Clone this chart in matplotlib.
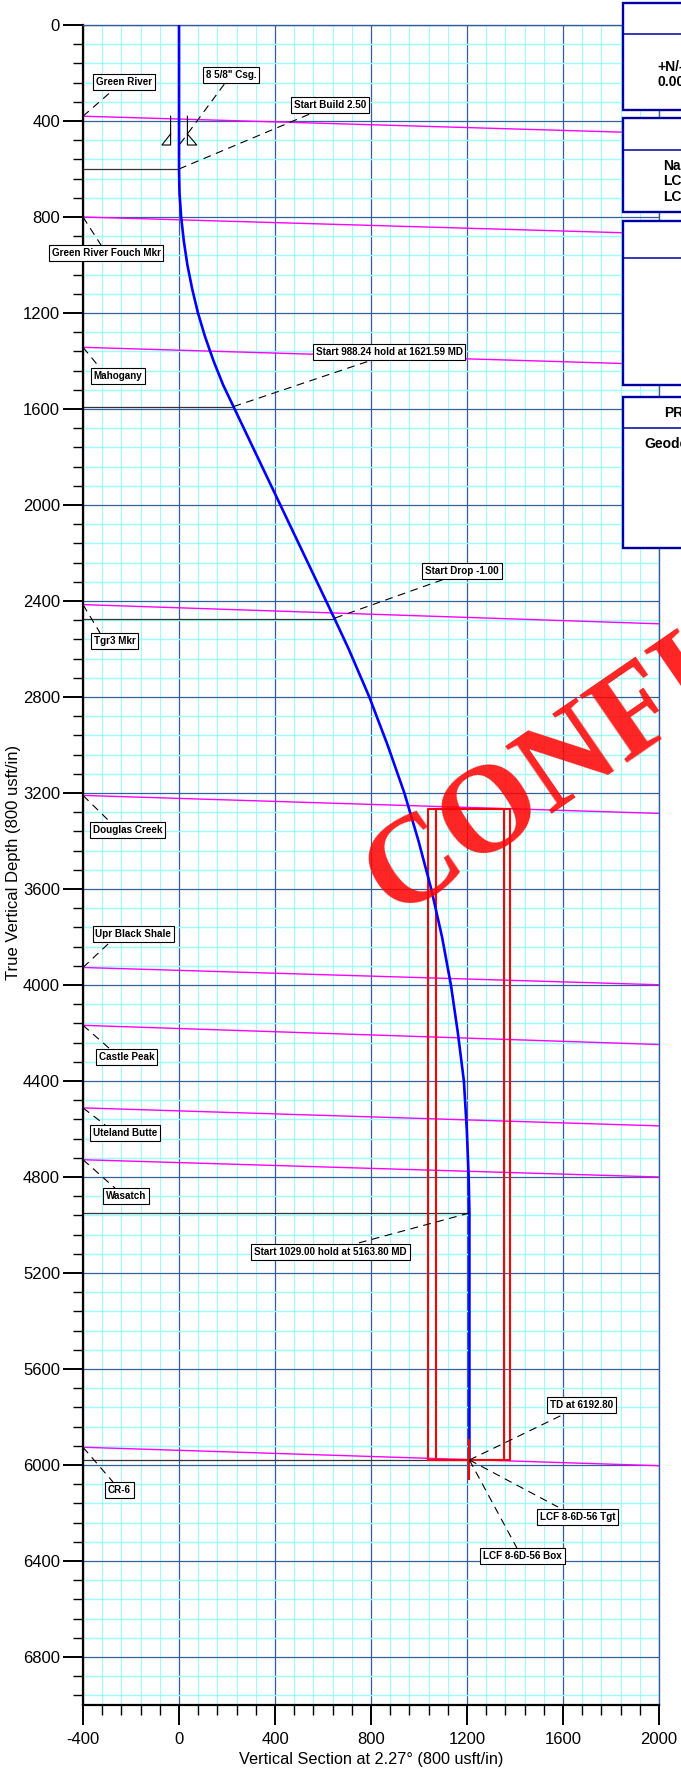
"""Vertical section plot for the planned well path."""
import matplotlib
matplotlib.use('Agg')
import matplotlib.pyplot as plt
from matplotlib.patches import Rectangle
from matplotlib.ticker import MultipleLocator

plt.rcParams['font.family'] = ['Liberation Sans', 'DejaVu Sans']
plt.rcParams['axes.unicode_minus'] = False

# well path
path_vs = [0, 0, 2, 9, 20, 35, 55, 79, 109, 144, 184, 227, 651, 707, 793, 869, 939, 998, 1051,
           1096, 1133, 1162, 1187, 1199, 1207, 1210, 1210]
path_tvd = [0, 600, 700, 800, 900, 1000, 1100, 1200, 1300, 1400, 1500, 1590, 2480, 2600, 2800, 3000, 3200, 3400, 3600,
            3800, 4000, 4200, 4400, 4600, 4800, 4950, 5979]

# formation tops: tvd at the left and right edge of the plot
formation_left = [380, 800, 1343, 2415, 3210, 3927, 4168, 4512, 4728, 5926]
formation_right = [451, 870, 1415, 2495, 3285, 3999, 4248, 4587, 4800, 6003]

# horizontal lines from the axis to the path
marker_tvd = [600, 1590, 2475, 4950, 5979]
marker_vs = [0, 227, 650, 1210, 1210]

# targets
target_outer = [1039, 1380]
target_inner = [1071, 1355]
target_top = 3267
target_bottom = 5979

# label text, label centre, leader start, leader end
labels = ['Green River', '8 5/8" Csg.', 'Start Build 2.50', 'Green River Fouch Mkr', 'Mahogany',
          'Start 988.24 hold at 1621.59 MD', 'Start Drop -1.00', 'Tgr3 Mkr', 'Douglas Creek',
          'Upr Black Shale', 'Castle Peak', 'Uteland Butte', 'Wasatch',
          'Start 1029.00 hold at 5163.80 MD', 'TD at 6192.80', 'LCF 8-6D-56 Tgt',
          'LCF 8-6D-56 Box', 'CR-6']
label_x = [-229, 217, 629, -304, -254, 875, 1179, -269, -215, -190, -219, -225, -221, 631, 1679, 1660, 1431, -248]
label_y = [237, 208, 333, 950, 1462, 1362, 2275, 2567, 3354, 3788, 4300, 4617, 4879, 5112, 5750, 6217, 6379, 6104]
start_x = [-400, 4, 0, -400, -400, 227, 650, -400, -400, -400, -400, -400, -400, 1210, 1210, 1210, 1210, -400]
start_y = [380, 496, 600, 800, 1343, 1590, 2471, 2415, 3210, 3927, 4168, 4512, 4728, 4950, 5979, 5979, 5979, 5926]
end_x = [-275, 192, 554, -325, -329, 804, 1108, -329, -287, -287, -287, -308, -267, 733, 1596, 1579, 1408, -275]
end_y = [271, 242, 367, 917, 1429, 1396, 2308, 2533, 3321, 3821, 4267, 4583, 4846, 5079, 5792, 6175, 6346, 6071]

W, H = 681, 1769
fig = plt.figure(figsize=(W / 100, H / 100), dpi=100)
ax = fig.add_axes([83 / W, 1 - 1705 / H, 576 / W, 1680 / H])

ax.set_xlim(-400, 2000)
ax.set_ylim(7000, 0)
ax.xaxis.set_major_locator(MultipleLocator(400))
ax.xaxis.set_minor_locator(MultipleLocator(80))
ax.yaxis.set_major_locator(MultipleLocator(400))
ax.yaxis.set_minor_locator(MultipleLocator(80))
ax.set_axisbelow(True)

ax.grid(True, which='minor', axis='x', color='#99ffff', linewidth=0.75)
ax.grid(True, which='minor', axis='y', color='#99ffff', linewidth=1.05)
ax.grid(True, which='major', color='#33609a', linewidth=0.9)

ax.tick_params(which='major', length=14.5, width=1.4, labelsize=12, pad=2)
ax.tick_params(which='minor', length=7.2, width=1.0)
ax.tick_params(axis='x', which='major', pad=5)
ax.spines['top'].set_color('#33609a')
ax.spines['right'].set_color('#33609a')
ax.spines['top'].set_linewidth(1.0)
ax.spines['right'].set_linewidth(1.0)
ax.spines['left'].set_linewidth(1.6)
ax.spines['bottom'].set_linewidth(1.6)

# formation tops
for left, right in zip(formation_left, formation_right):
    ax.plot([-400, 2000], [left, right], color='#ff00ff', linewidth=1.0, zorder=2)

# marker lines
for vs, tvd in zip(marker_vs, marker_tvd):
    ax.plot([-400, vs], [tvd, tvd], color='#333333', linewidth=0.9, zorder=2)

# target boxes
for a, b in [target_outer, target_inner]:
    ax.plot([a, a, b, b, a], [target_bottom, target_top, target_top, target_bottom, target_bottom],
            color='#ff0000', linewidth=1.5, zorder=3)

# casing shoe symbol
ax.plot([-35, -35, -71, -35], [380, 500, 500, 454], color='black', linewidth=0.8, zorder=3)
ax.plot([35, 35, 74, 35], [380, 500, 500, 454], color='black', linewidth=0.8, zorder=3)

# path and end marker
ax.plot(path_vs, path_tvd, color='#0000ff', linewidth=1.9, zorder=4)
ax.plot([1210, 1210], [5896, 6059], color='#ff0000', linewidth=1.5, zorder=4)

# labels with dashed leaders
for i, text in enumerate(labels):
    ax.plot([start_x[i], end_x[i]], [start_y[i], end_y[i]], color='black', linewidth=0.8,
            dashes=(7, 5), zorder=5)
    ax.text(label_x[i], label_y[i], text, fontsize=7.1, fontweight='bold', ha='center', va='center',
            bbox=dict(boxstyle='square,pad=0.3', facecolor='white', edgecolor='black', linewidth=0.8),
            zorder=6)

fig.text(371 / W, 1 - 1759 / H, 'Vertical Section at 2.27\u00b0 (800 usft/in)', fontsize=11.7,
         ha='center', va='center')
fig.text(13.5 / W, 1 - 862 / H, 'True Vertical Depth (800 usft/in)', fontsize=12, rotation=90,
         ha='center', va='center')

# info boxes run off the right edge of the page
box_tops = [3, 118, 221, 397]
box_bottoms = [110, 212, 385, 548]
box_dividers = [34, 150, 258, 428]
for top, bottom, divider in zip(box_tops, box_bottoms, box_dividers):
    fig.add_artist(Rectangle((622.5 / W, 1 - bottom / H), 200 / W, (bottom - top) / H, facecolor='white',
                             edgecolor='#0000a0', linewidth=1.7, transform=fig.transFigure, zorder=7))
    fig.add_artist(plt.Line2D([622.5 / W, 1], [1 - divider / H] * 2, color='#0000a0', linewidth=1.1,
                              transform=fig.transFigure, zorder=8))

box_text = ['+N/-S', '0.00', 'Name', 'LCF', 'LCF', 'PROJECT', 'Geodetic']
box_text_x = [657, 657, 663, 663, 663, 664, 644]
box_text_y = [67, 82, 166, 181, 197, 413, 444]
for text, x, y in zip(box_text, box_text_x, box_text_y):
    fig.text(x / W, 1 - y / H, text, fontsize=10, fontweight='bold', ha='left', va='center', zorder=9)

# watermark
fig.text(395 / W, 1 - 917 / H, 'CONFIDENTIAL', family=['Liberation Serif', 'DejaVu Serif'], fontsize=90,
         fontweight='bold', color='#ff0000', alpha=0.86, rotation=34.5, rotation_mode='anchor',
         ha='left', va='baseline', zorder=10)

fig.savefig('out.png', dpi=100)
